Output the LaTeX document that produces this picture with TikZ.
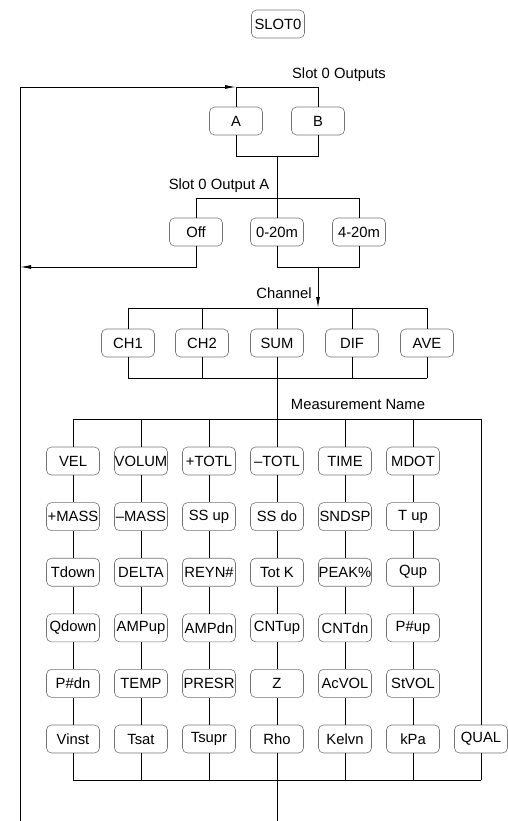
\documentclass[tikz,border=0pt]{standalone}
\usepackage{fontspec}
\setmainfont{Liberation Sans}
\usetikzlibrary{arrows.meta}
\definecolor{boxline}{gray}{0.45}

\tikzset{
  menubox/.style={draw=boxline, line width=0.6pt, rounded corners=5pt,
    minimum width=53pt, minimum height=28pt, inner xsep=0pt, inner ysep=0pt},
  wire/.style={line width=0.9pt},
  tip/.style={wire, -{Latex[length=11pt,width=4pt]}}
}

\begin{document}
\begin{tikzpicture}[x=1pt, y=-1pt, font=\fontsize{14.8}{17}\selectfont]
\useasboundingbox (0,0) rectangle (507,821);

% top box
\node[menubox] (slot) at (278,24) {SLOT0};

% slot 0 outputs
\node (lblout) at (339,75) {Slot 0 Outputs};
\coordinate (lt) at (20,87);
\coordinate (lb) at (20,821);
\node[menubox] (A) at (236,121) {A};
\node[menubox] (B) at (318,121) {B};
\coordinate (abot) at (277,156);

% slot 0 output A
\node (lbla) at (219,186) {Slot 0 Output A};
\coordinate (atop) at (277,198);
\node[menubox] (off) at (196,232) {Off};
\node[menubox] (m020) at (277,232) {0-20m};
\node[menubox] (m420) at (359,232) {4-20m};
\coordinate (obot) at (318,267);

% channel
\node (lblch) at (284,293) {Channel};
\coordinate (chtop) at (318,308);
\node[menubox] (ch1) at (128,343) {CH1};
\node[menubox] (ch2) at (202,343) {CH2};
\node[menubox] (sum) at (277,343) {SUM};
\node[menubox] (dif) at (352,343) {DIF};
\node[menubox] (ave) at (427,343) {AVE};
\coordinate (chbot) at (277,378);

% measurement name
\node (lblmeas) at (358,404) {Measurement Name};
\coordinate (mtop) at (277,419);
\foreach \row [count=\r] in {
  {VEL,VOLUM,+TOTL,--TOTL,TIME,MDOT},
  {+MASS,--MASS,SS up,SS do,SNDSP,T up},
  {Tdown,DELTA,REYN\#,Tot K,PEAK\%,Qup},
  {Qdown,AMPup,AMPdn,CNTup,CNTdn,P\#up},
  {P\#dn,TEMP,PRESR,Z,AcVOL,StVOL},
  {Vinst,Tsat,Tsupr,Rho,Kelvn,kPa}}
  \foreach \lab [count=\c] in \row
    \node[menubox] (m\r\c) at ({73+68*(\c-1)},{461+55.6*(\r-1)}) {\lab};
\node[menubox] (qual) at (481,739) {QUAL};
\coordinate (mbot) at (277,780);
\coordinate (mout) at (277,821);

% connectors
\draw[tip] (lb) -- (lt) -- (A |- lt);
\draw[wire] (A |- lt) -- (B |- lt) -- (B);
\draw[wire] (A |- lt) -- (A);
\draw[wire] (A) -- (A |- abot) -- (B |- abot) -- (B);
\draw[wire] (abot) -- (atop);
\draw[wire] (off) -- (off |- atop) -- (m420 |- atop) -- (m420);
\draw[wire] (atop) -- (m020);
\draw[tip] (off) -- (off |- obot) -- (lb |- obot);
\draw[wire] (m020) -- (m020 |- obot) -- (m420 |- obot) -- (m420);
\draw[tip] (obot) -- (chtop);
\draw[wire] (ch1 |- chtop) -- (ave |- chtop);
\draw[wire] (ch1 |- chbot) -- (ave |- chbot);
\foreach \n in {ch1,ch2,sum,dif,ave}
  \draw[wire] (\n |- chtop) -- (\n) -- (\n |- chbot);
\draw[wire] (chbot) -- (mtop);
\draw[wire] (m11 |- mtop) -- (qual |- mtop);
\draw[wire] (m61 |- mbot) -- (qual |- mbot);
\draw[wire] (qual |- mtop) -- (qual) -- (qual |- mbot);
\foreach \c in {1,...,6} {
  \draw[wire] (m1\c |- mtop) -- (m1\c);
  \foreach \r [evaluate=\r as \n using int(\r+1)] in {1,...,5}
    \draw[wire] (m\r\c) -- (m\n\c);
  \draw[wire] (m6\c) -- (m6\c |- mbot);
}
\draw[wire] (mbot) -- (mout);
\end{tikzpicture}
\end{document}
